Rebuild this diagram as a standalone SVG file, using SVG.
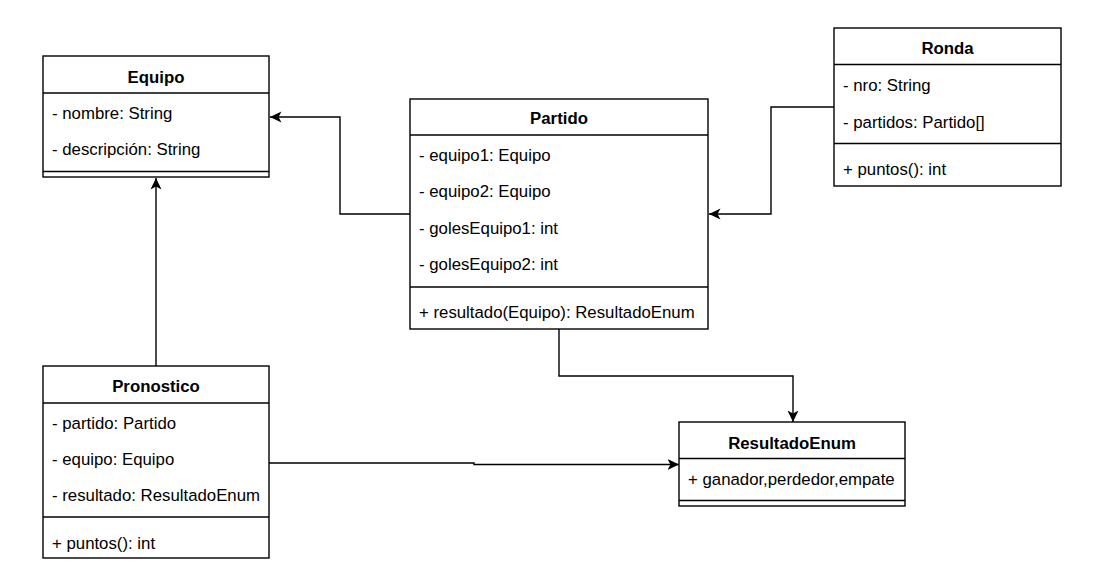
<svg xmlns="http://www.w3.org/2000/svg" width="1096" height="585" viewBox="0 0 1096 585">
<style>
.box{fill:#fff;stroke:#000;stroke-width:1.4}
.ln{stroke:#000;stroke-width:1.4;fill:none}
.t{font-family:"Liberation Sans",Arial,sans-serif;font-size:16.8px;fill:#000}
.h{font-weight:bold;text-anchor:middle}
.c{fill:none;stroke:#000;stroke-width:1.4;marker-end:url(#arr)}
</style>
<defs>
<marker id="arr" viewBox="0 0 12 12" markerWidth="12" markerHeight="12" refX="11.5" refY="6" orient="auto" markerUnits="userSpaceOnUse">
<path d="M0,0.5 L11.5,6 L0,11.5 L3,6 Z" fill="#000"/>
</marker>
</defs>
<rect width="1096" height="585" fill="#fff"/>
<g id="connectors">
<path class="c" d="M410,214 H340 V117 H270"/>
<path class="c" d="M834,107 H771 V214 H709"/>
<path class="c" d="M156,366 V178"/>
<path class="c" d="M269,463 H474 V464.5 H679"/>
<path class="c" d="M559,329 V376 H793 V422"/>
</g>
<g id="equipo">
<rect class="box" x="43" y="56" width="226" height="121"/>
<line class="ln" x1="43" y1="93" x2="269" y2="93"/>
<line class="ln" x1="43" y1="171.5" x2="269" y2="171.5"/>
<text class="t h" x="156" y="83">Equipo</text>
<text class="t" x="52" y="119">- nombre: String</text>
<text class="t" x="52" y="155">- descripción: String</text>
</g>
<g id="partido">
<rect class="box" x="410" y="99" width="298" height="230"/>
<line class="ln" x1="410" y1="135" x2="708" y2="135"/>
<line class="ln" x1="410" y1="287" x2="708" y2="287"/>
<text class="t h" x="559" y="124">Partido</text>
<text class="t" x="419" y="161">- equipo1: Equipo</text>
<text class="t" x="419" y="197">- equipo2: Equipo</text>
<text class="t" x="419" y="234">- golesEquipo1: int</text>
<text class="t" x="419" y="270">- golesEquipo2: int</text>
<text class="t" x="419" y="318">+ resultado(Equipo): ResultadoEnum</text>
</g>
<g id="ronda">
<rect class="box" x="834" y="28" width="227" height="158"/>
<line class="ln" x1="834" y1="64.5" x2="1061" y2="64.5"/>
<line class="ln" x1="834" y1="143.5" x2="1061" y2="143.5"/>
<text class="t h" x="947.5" y="54">Ronda</text>
<text class="t" x="843" y="91">- nro: String</text>
<text class="t" x="843" y="128">- partidos: Partido[]</text>
<text class="t" x="843" y="175">+ puntos(): int</text>
</g>
<g id="pronostico">
<rect class="box" x="43" y="366" width="226" height="192"/>
<line class="ln" x1="43" y1="403" x2="269" y2="403"/>
<line class="ln" x1="43" y1="517" x2="269" y2="517"/>
<text class="t h" x="156" y="392">Pronostico</text>
<text class="t" x="52" y="429">- partido: Partido</text>
<text class="t" x="52" y="465">- equipo: Equipo</text>
<text class="t" x="52" y="501">- resultado: ResultadoEnum</text>
<text class="t" x="52" y="549">+ puntos(): int</text>
</g>
<g id="resultadoenum">
<rect class="box" x="679" y="422" width="226" height="84"/>
<line class="ln" x1="679" y1="458.5" x2="905" y2="458.5"/>
<line class="ln" x1="679" y1="500.5" x2="905" y2="500.5"/>
<text class="t h" x="792" y="449">ResultadoEnum</text>
<text class="t" x="688" y="485">+ ganador,perdedor,empate</text>
</g>
</svg>
